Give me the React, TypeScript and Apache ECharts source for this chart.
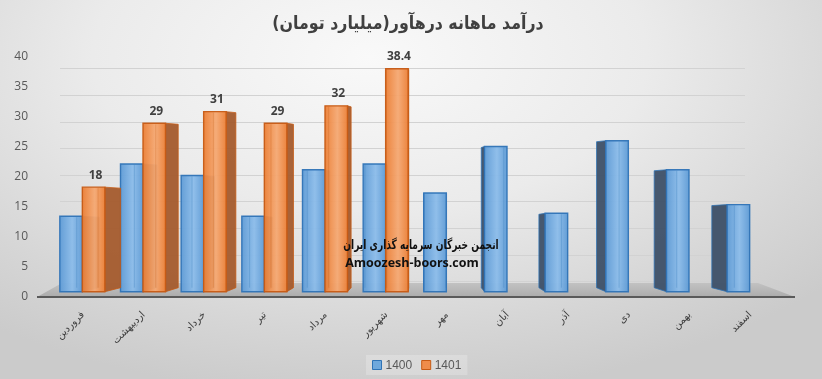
import React, { useEffect, useRef } from "react";
import * as echarts from "echarts";

const TITLE = "درآمد ماهانه درهآور(میلیارد تومان)\u200F";
const MONTHS = ["فروردین", "اردیبهشت", "خرداد", "تیر", "مرداد", "شهریور", "مهر", "آبان", "آذر", "دی", "بهمن", "اسفند"];
const SERIES_NAMES = ["1400", "1401"];
const VALUES_1400 = [13, 22, 20, 13, 21, 22, 17, 25, 13.5, 26, 21, 15];
const VALUES_1401 = [18, 29, 31, 29, 32, 38.4];
const Y_TICKS = { min: 0, max: 40, interval: 5 };
const WATERMARK_1 = "انجمن خبرگان سرمایه گذاری ایران";
const WATERMARK_2 = "Amoozesh-boors.com";

const PALETTE = [
  { edge: "#5e9bd6", mid: "#8bbcea", border: "#2f73b6", side: "#3d5068" },
  { edge: "#ec7f35", mid: "#f5a872", border: "#c65a14", side: "#a45b2d" },
];

const VP = 420;
const K = 0.05;

function makeRender(si: number, showLabel: boolean) {
  const c = PALETTE[si];
  return (params: any, api: any) => {
    const idx = api.value(0);
    const val = api.value(1);
    const base = api.coord([idx, 0]);
    const top = api.coord([idx, val]);
    const band = api.size([1, 0])[0];
    const w = band * 0.371;
    const x0 = si === 0 ? base[0] - w : base[0];
    const x1 = x0 + w;
    const cx = (x0 + x1) / 2;
    let edge: number, dx: number, backEdge: number;
    if (cx < VP) {
      edge = x1;
      dx = (VP - x1) * K;
      backEdge = x0 + dx;
    } else {
      edge = x0;
      dx = (VP - x0) * K;
      backEdge = x1 + dx;
    }
    const yTop = top[1];
    const yBot = base[1];
    const children: any[] = [];
    children.push({
      type: "polygon",
      shape: {
        points: [
          [edge, yTop],
          [edge + dx, yTop + 1],
          [edge + dx, yBot - 4],
          [edge, yBot],
        ],
      },
      style: { fill: c.side, stroke: c.border, lineWidth: 0.8, opacity: 0.95 },
    });
    children.push({
      type: "rect",
      shape: { x: x0, y: yTop, width: w, height: yBot - yTop },
      style: {
        fill: new echarts.graphic.LinearGradient(0, 0, 1, 0, [
          { offset: 0, color: c.edge },
          { offset: 0.55, color: c.mid },
          { offset: 1, color: c.edge },
        ]),
        stroke: c.border,
        lineWidth: 1.4,
        opacity: 0.95,
      },
    });
    children.push({
      type: "line",
      shape: { x1: backEdge, y1: yTop + 1, x2: backEdge, y2: yBot - 4 },
      style: { stroke: c.border, lineWidth: 0.8, opacity: 0.35 },
    });
    if (showLabel) {
      children.push({
        type: "text",
        style: {
          text: String(val),
          x: cx + 2,
          y: yTop - 7,
          align: "center",
          verticalAlign: "bottom",
          fontFamily: "'Open Sans', 'DejaVu Sans', sans-serif",
          fontWeight: "bold",
          fontSize: 12,
          fill: "#404040",
        },
      });
    }
    return { type: "group", children };
  };
}

export default function App() {
  const ref = useRef<HTMLDivElement>(null);
  useEffect(() => {
    if (!ref.current) return;
    const chart = echarts.init(ref.current, undefined, { renderer: "svg" });
    const data1400 = VALUES_1400.map((v, i) => [i, v]);
    const data1401 = VALUES_1401.map((v, i) => [i, v]);
    const option: any = {
      animation: false,
      backgroundColor: "transparent",
      legend: {
        left: 366,
        top: 355,
        itemWidth: 9,
        itemHeight: 9,
        itemGap: 9,
        padding: [4, 6],
        backgroundColor: "rgba(255,255,255,0.22)",
        textStyle: { fontFamily: "'Liberation Sans', sans-serif", fontSize: 12, color: "#595959", padding: [0, 0, 0, -1] },
        data: [
          { name: SERIES_NAMES[0], icon: "rect", itemStyle: { color: "#6fa8dc", borderColor: "#2f73b6", borderWidth: 1 } },
          { name: SERIES_NAMES[1], icon: "rect", itemStyle: { color: "#ef8c4a", borderColor: "#c65a14", borderWidth: 1 } },
        ],
      },
      grid: [
        { left: 52, right: 42, top: 59.4, bottom: 87.3 },
        { left: 60, right: 77, top: 68.5, bottom: 97.5 },
        { left: 30, width: 10, top: 55, bottom: 84 },
      ],
      xAxis: [
        {
          type: "category",
          gridIndex: 0,
          data: MONTHS,
          axisLine: { show: false },
          axisTick: { show: false },
          axisLabel: {
            rotate: 45,
            margin: 21,
            interval: 0,
            fontFamily: "'DejaVu Sans', sans-serif",
            fontSize: 10,
            color: "#404040",
          },
        },
        { type: "value", gridIndex: 1, show: false, min: 0, max: 1 },
        { type: "value", gridIndex: 2, show: false, min: 0, max: 1 },
      ],
      yAxis: [
        { type: "value", gridIndex: 0, show: false, ...Y_TICKS },
        {
          type: "value",
          gridIndex: 1,
          ...Y_TICKS,
          axisLine: { show: false },
          axisTick: { show: false },
          axisLabel: { show: false },
          splitLine: { show: true, lineStyle: { color: "#d2d2d2", width: 1.2 } },
        },
        {
          type: "value",
          gridIndex: 2,
          ...Y_TICKS,
          axisLine: { show: false },
          axisTick: { show: false },
          splitLine: { show: false },
          axisLabel: {
            margin: 2,
            fontFamily: "'Open Sans', sans-serif",
            fontSize: 12,
            color: "#595959",
          },
        },
      ],
      graphic: [
        {
          type: "text",
          z: 100,
          x: 408,
          y: 23,
          scaleX: 0.88,
          style: {
            text: TITLE,
            x: 0,
            y: 0,
            align: "center",
            verticalAlign: "middle",
            fontFamily: "'DejaVu Sans', sans-serif",
            fontWeight: "bold",
            fontSize: 18,
            fill: "#404040",
          },
        },
        {
          type: "polygon",
          z: 0,
          shape: { points: [[37, 297], [795, 297], [758, 283], [62, 283]] },
          style: {
            fill: new echarts.graphic.LinearGradient(0, 0, 0, 1, [
              { offset: 0, color: "#c2c2c2" },
              { offset: 1, color: "#acacac" },
            ]),
          },
        },
        {
          type: "line",
          z: 1,
          shape: { x1: 37, y1: 297, x2: 795, y2: 297 },
          style: { stroke: "#5a5a5a", lineWidth: 2 },
        },
        {
          type: "text",
          z: 100,
          x: 421,
          y: 245,
          scaleX: 0.7,
          style: {
            text: WATERMARK_1,
            x: 0,
            y: 0,
            align: "center",
            verticalAlign: "middle",
            fontFamily: "'DejaVu Sans', sans-serif",
            fontWeight: "bold",
            fontSize: 13,
            fill: "#111111",
          },
        },
        {
          type: "text",
          z: 100,
          x: 412,
          y: 262,
          style: {
            text: WATERMARK_2,
            x: 0,
            y: 0,
            align: "center",
            verticalAlign: "middle",
            fontFamily: "'Open Sans', sans-serif",
            fontWeight: "bold",
            fontSize: 12.5,
            fill: "#111111",
          },
        },
      ],
      series: [
        {
          name: SERIES_NAMES[0],
          type: "custom",
          xAxisIndex: 0,
          yAxisIndex: 0,
          itemStyle: { color: "#6fa8dc" },
          renderItem: makeRender(0, false),
          encode: { x: 0, y: 1 },
          data: data1400,
          z: 3,
        },
        {
          name: SERIES_NAMES[1],
          type: "custom",
          xAxisIndex: 0,
          yAxisIndex: 0,
          itemStyle: { color: "#ef8c4a" },
          renderItem: makeRender(1, true),
          encode: { x: 0, y: 1 },
          data: data1401,
          z: 4,
        },
      ],
    };
    chart.setOption(option);
    return () => chart.dispose();
  }, []);
  return (
    <div
      style={{
        position: "fixed",
        left: 0,
        top: 0,
        width: 822,
        height: 379,
        background:
          "radial-gradient(ellipse 75% 90% at 45% 15%, #f9f9f9 0%, #ebebeb 45%, #d6d6d6 80%, #cbcbcb 100%)",
      }}
    >
      <div ref={ref} style={{ width: 822, height: 379 }} />
    </div>
  );
}
